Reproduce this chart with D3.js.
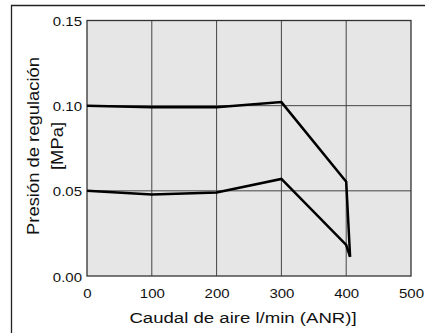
<!DOCTYPE html>
<html><head><meta charset="utf-8">
<script src="https://cdn.jsdelivr.net/npm/d3@7"></script>
<style>body{margin:0;background:#fff}svg{display:block}text{font-family:"Liberation Sans",Arial,sans-serif;fill:#111}</style>
</head><body>
<script>
const flowX = [0, 100, 200, 300, 400, 406];
const upperP = [0.100, 0.0991, 0.0991, 0.1021, 0.0554, 0.0113];
const lowerP = [0.050, 0.0478, 0.049, 0.057, 0.0182, 0.0113];
const xTicks = [0, 100, 200, 300, 400, 500];
const yTicks = [0, 0.05, 0.10, 0.15];
const xTitle = "Caudal de aire l/min (ANR)]";
const yTitle1 = "Presión de regulación";
const yTitle2 = "[MPa]";

const W = 425, H = 333;
const m = {l: 87, r: 411, t: 20.5, b: 276};
const SX = 1.2;
const svg = d3.select("body").append("svg").attr("width", W).attr("height", H);

svg.append("path").attr("d", `M11.5,${H} V5.5 H${W}`).attr("fill","none").attr("stroke","#222").attr("stroke-width",1.3);

const x = d3.scaleLinear().domain([0,500]).range([m.l, m.r]);
const y = d3.scaleLinear().domain([0,0.15]).range([m.b, m.t]);

svg.append("rect").attr("x", m.l).attr("y", m.t).attr("width", m.r-m.l).attr("height", m.b-m.t).attr("fill","#e6e6e6");

svg.append("g").selectAll("line").data(xTicks.slice(1,-1)).join("line")
  .attr("x1", d=>x(d)).attr("x2", d=>x(d)).attr("y1", m.t).attr("y2", m.b)
  .attr("stroke","#444").attr("stroke-width",1);
svg.append("g").selectAll("line").data(yTicks.slice(1,-1)).join("line")
  .attr("y1", d=>y(d)).attr("y2", d=>y(d)).attr("x1", m.l).attr("x2", m.r)
  .attr("stroke","#444").attr("stroke-width",1);

svg.append("rect").attr("x", m.l).attr("y", m.t).attr("width", m.r-m.l).attr("height", m.b-m.t)
  .attr("fill","none").attr("stroke","#333").attr("stroke-width",1.3);

const xAxis = d3.axisBottom(x).tickValues(xTicks).tickSize(0).tickPadding(0).tickFormat(d3.format("d"));
const gx = svg.append("g").attr("transform", `translate(0,${m.b})`).call(xAxis);
gx.select(".domain").remove();
gx.selectAll("text").attr("font-size", 12.5).attr("y", null).attr("dy", null)
  .attr("transform", `translate(0,22) scale(${SX},1)`);

const yAxis = d3.axisLeft(y).tickValues(yTicks).tickSize(0).tickPadding(0).tickFormat(d3.format(".2f"));
const gy = svg.append("g").attr("transform", `translate(${m.l},0)`).call(yAxis);
gy.select(".domain").remove();
gy.selectAll("text").attr("font-size", 12.5).attr("x", null)
  .attr("transform", `translate(-5,1) scale(${SX},1)`);

const line = d3.line().x(d=>x(d[0])).y(d=>y(d[1]));
[upperP, lowerP].forEach(s => {
  svg.append("path").datum(flowX.map((v,i)=>[v, s[i]])).attr("d", line)
    .attr("fill","none").attr("stroke","#000").attr("stroke-width",2.5).attr("stroke-linejoin","miter");
});

svg.append("text").attr("transform", `translate(${(m.l+m.r)/2 - 6},323) scale(1.24,1)`).attr("text-anchor","middle").attr("font-size",15).text(xTitle);
svg.append("text").attr("transform", `translate(39,146) rotate(-90) scale(1.15,1)`).attr("text-anchor","middle").attr("font-size",16).text(yTitle1);
svg.append("text").attr("transform", `translate(63,146) rotate(-90) scale(1.15,1)`).attr("text-anchor","middle").attr("font-size",16).text(yTitle2);
</script>
</body></html>
